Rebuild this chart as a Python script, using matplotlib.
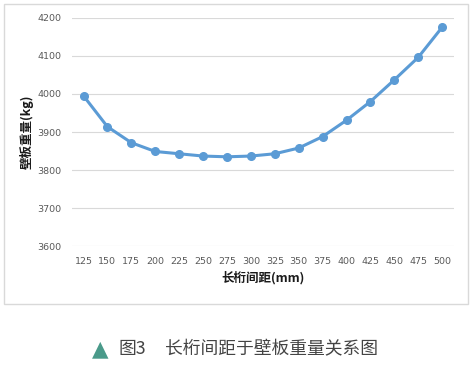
import matplotlib
matplotlib.use('Agg')
import matplotlib.pyplot as plt
from matplotlib.patches import Rectangle

plt.rcParams['font.family'] = ['Noto Sans CJK SC', 'DejaVu Sans']

# 长桁间距 (mm) 和 壁板重量 (kg)
spacing = [125, 150, 175, 200, 225, 250, 275, 300, 325, 350, 375, 400, 425, 450, 475, 500]
weight = [3995, 3914, 3872, 3849, 3843, 3837, 3835, 3837, 3843, 3858, 3888, 3931, 3980, 4037, 4096, 4175]
y_ticks = [3600, 3700, 3800, 3900, 4000, 4100, 4200]

fig = plt.figure(figsize=(4.77, 3.65), dpi=100)

# 图表外框
fig.patches.append(Rectangle((4.5 / 477, 1 - 304 / 365), 464 / 477, 300.5 / 365,
                             transform=fig.transFigure, fill=False,
                             edgecolor='#d9d9d9', linewidth=1.0))

ax = fig.add_axes([0.150, 0.325, 0.802, 0.6265])
x = list(range(len(spacing)))
ax.plot(x, weight, color='#5b9bd5', linewidth=2.2, marker='o', markersize=5.5,
        zorder=3)

ax.set_xlim(-0.5, len(spacing) - 0.5)
ax.set_ylim(3600, 4200)
ax.set_yticks(y_ticks)
ax.set_xticks(x)
ax.set_xticklabels([str(s) for s in spacing])
ax.grid(axis='y', color='#d9d9d9', linewidth=0.8)
ax.set_axisbelow(True)
for sp in ax.spines.values():
    sp.set_visible(False)
ax.tick_params(length=0, labelsize=6.8, colors='#595959', pad=7)
ax.tick_params(axis='x', pad=8)
for lab in ax.get_xticklabels() + ax.get_yticklabels():
    lab.set_family(['DejaVu Sans'])

ax.set_xlabel('长桁间距(mm)', fontsize=9, fontweight='bold', color='#1a1a1a', labelpad=3)
ax.set_ylabel('壁板重量(kg)', fontsize=9, fontweight='bold', color='#1a1a1a', labelpad=3)

# 图题
fig.text(92 / 477, 1 - 349 / 365, '▲', color='#4a9a8a', fontsize=15.5,
         ha='left', va='center', family=['DejaVu Sans'])
fig.text(119 / 477, 1 - 349 / 365, '图3', color='#444444', fontsize=12.8,
         ha='left', va='center')
fig.text(165 / 477, 1 - 349 / 365, '长桁间距于壁板重量关系图', color='#444444',
         fontsize=12.8, ha='left', va='center')

fig.savefig('out.png', dpi=100)
